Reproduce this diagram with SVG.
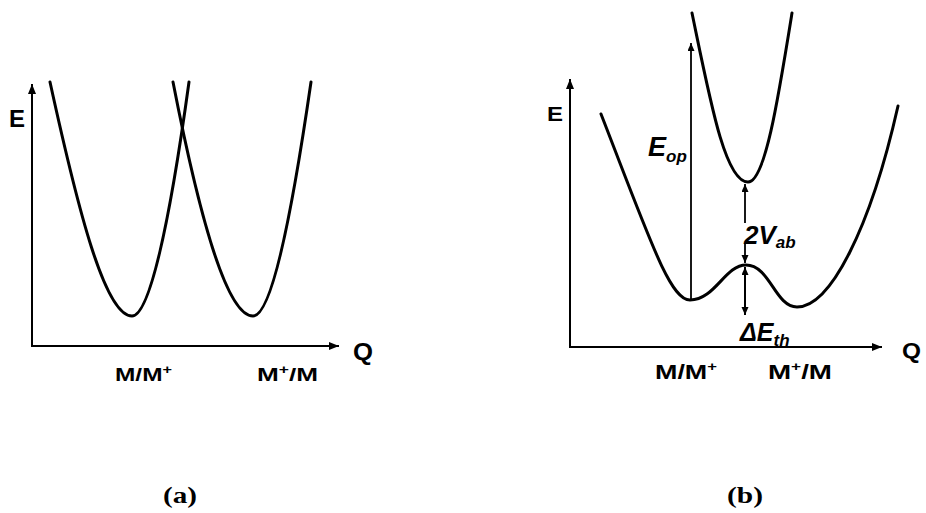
<svg xmlns="http://www.w3.org/2000/svg" width="926" height="513" viewBox="0 0 926 513">
<style>
.curve{fill:none;stroke:#000;stroke-width:3;stroke-linecap:round;stroke-linejoin:round}
.axis{fill:none;stroke:#000;stroke-width:2}
.thin{fill:none;stroke:#000;stroke-width:1.8}
.lbl{font-family:"Liberation Sans",Arial,sans-serif;font-weight:bold;fill:#000}
.it{font-family:"Liberation Sans",Arial,sans-serif;font-weight:bold;font-style:italic;fill:#000}
.cap{font-family:"Liberation Serif","Times New Roman",serif;font-weight:bold;fill:#000}
</style>
<defs>
<marker id="ah" markerUnits="userSpaceOnUse" markerWidth="11" markerHeight="9" refX="10" refY="4" orient="auto">
<path d="M0,0 L10,4 L0,8 z" fill="#000"/>
</marker>
<marker id="as" markerUnits="userSpaceOnUse" markerWidth="9" markerHeight="8" refX="8" refY="3.5" orient="auto-start-reverse">
<path d="M0,0 L8,3.5 L0,7 z" fill="#000"/>
</marker>
</defs>

<g id="panel-a">
<g id="axes-a">
<line class="axis" x1="32" y1="346" x2="32" y2="84" marker-end="url(#ah)"/>
<line class="axis" x1="31" y1="346" x2="339" y2="346" marker-end="url(#ah)"/>
<text class="lbl" x="9" y="127" font-size="24" textLength="16" lengthAdjust="spacingAndGlyphs">E</text>
<text class="lbl" x="353" y="360" font-size="23" textLength="20" lengthAdjust="spacingAndGlyphs">Q</text>
</g>
<g id="curve-a-left">
<path class="curve" d="M50,82 C78,210 105,316 132,316 C150,316 170,220 189,82"/>
</g>
<g id="curve-a-right">
<path class="curve" d="M173,82 C198,210 226,316 253,316 C271,316 291,220 311,82"/>
</g>
<text class="lbl" x="115" y="381" font-size="18" textLength="57" lengthAdjust="spacingAndGlyphs">M/M<tspan font-size="12" dy="-7">+</tspan></text>
<text class="lbl" x="257" y="381" font-size="18" textLength="61" lengthAdjust="spacingAndGlyphs">M<tspan font-size="12" dy="-7">+</tspan><tspan dy="7">/M</tspan></text>
<text class="cap" x="163" y="503" font-size="24" textLength="34" lengthAdjust="spacingAndGlyphs">(a)</text>
</g>

<g id="panel-b">
<g id="axes-b">
<line class="axis" x1="570" y1="347" x2="570" y2="79" marker-end="url(#ah)"/>
<line class="axis" x1="569" y1="347" x2="882" y2="347" marker-end="url(#ah)"/>
<text class="lbl" x="547" y="121" font-size="20" textLength="16" lengthAdjust="spacingAndGlyphs">E</text>
<text class="lbl" x="902" y="358" font-size="22" textLength="19" lengthAdjust="spacingAndGlyphs">Q</text>
</g>
<g id="curve-b-lower">
<path class="curve" d="M601,114 C650,240 670,300 690,300 C715,300 725,265 746,265 C770,265 775,307 797,307 C830,307 870,230 898,106"/>
</g>
<g id="curve-b-upper">
<path class="curve" d="M692,13 C710,100 725,182 748,182 C765,182 778,100 792,13"/>
</g>
<g id="connectors">
<line class="thin" x1="691" y1="300" x2="691" y2="43" marker-end="url(#as)"/>
<line class="thin" x1="745" y1="223" x2="745" y2="184" marker-end="url(#as)"/>
<line class="thin" x1="745" y1="243" x2="745" y2="263" marker-end="url(#as)"/>
<line class="axis" x1="745" y1="267" x2="745" y2="315" marker-start="url(#as)" marker-end="url(#as)"/>
</g>
<text class="it" x="648" y="156" font-size="27">E<tspan font-size="17" dy="6">op</tspan></text>
<text class="it" x="744" y="244" font-size="26">2V<tspan font-size="17" dy="4">ab</tspan></text>
<text class="it" x="740" y="341" font-size="25">ΔE<tspan font-size="17" dy="5">th</tspan></text>
<text class="lbl" x="655" y="379" font-size="21" textLength="62" lengthAdjust="spacingAndGlyphs">M/M<tspan font-size="13" dy="-8">+</tspan></text>
<text class="lbl" x="768" y="379" font-size="21" textLength="64" lengthAdjust="spacingAndGlyphs">M<tspan font-size="13" dy="-8">+</tspan><tspan dy="8">/M</tspan></text>
<text class="cap" x="727" y="503" font-size="24" textLength="36" lengthAdjust="spacingAndGlyphs">(b)</text>
</g>
</svg>
